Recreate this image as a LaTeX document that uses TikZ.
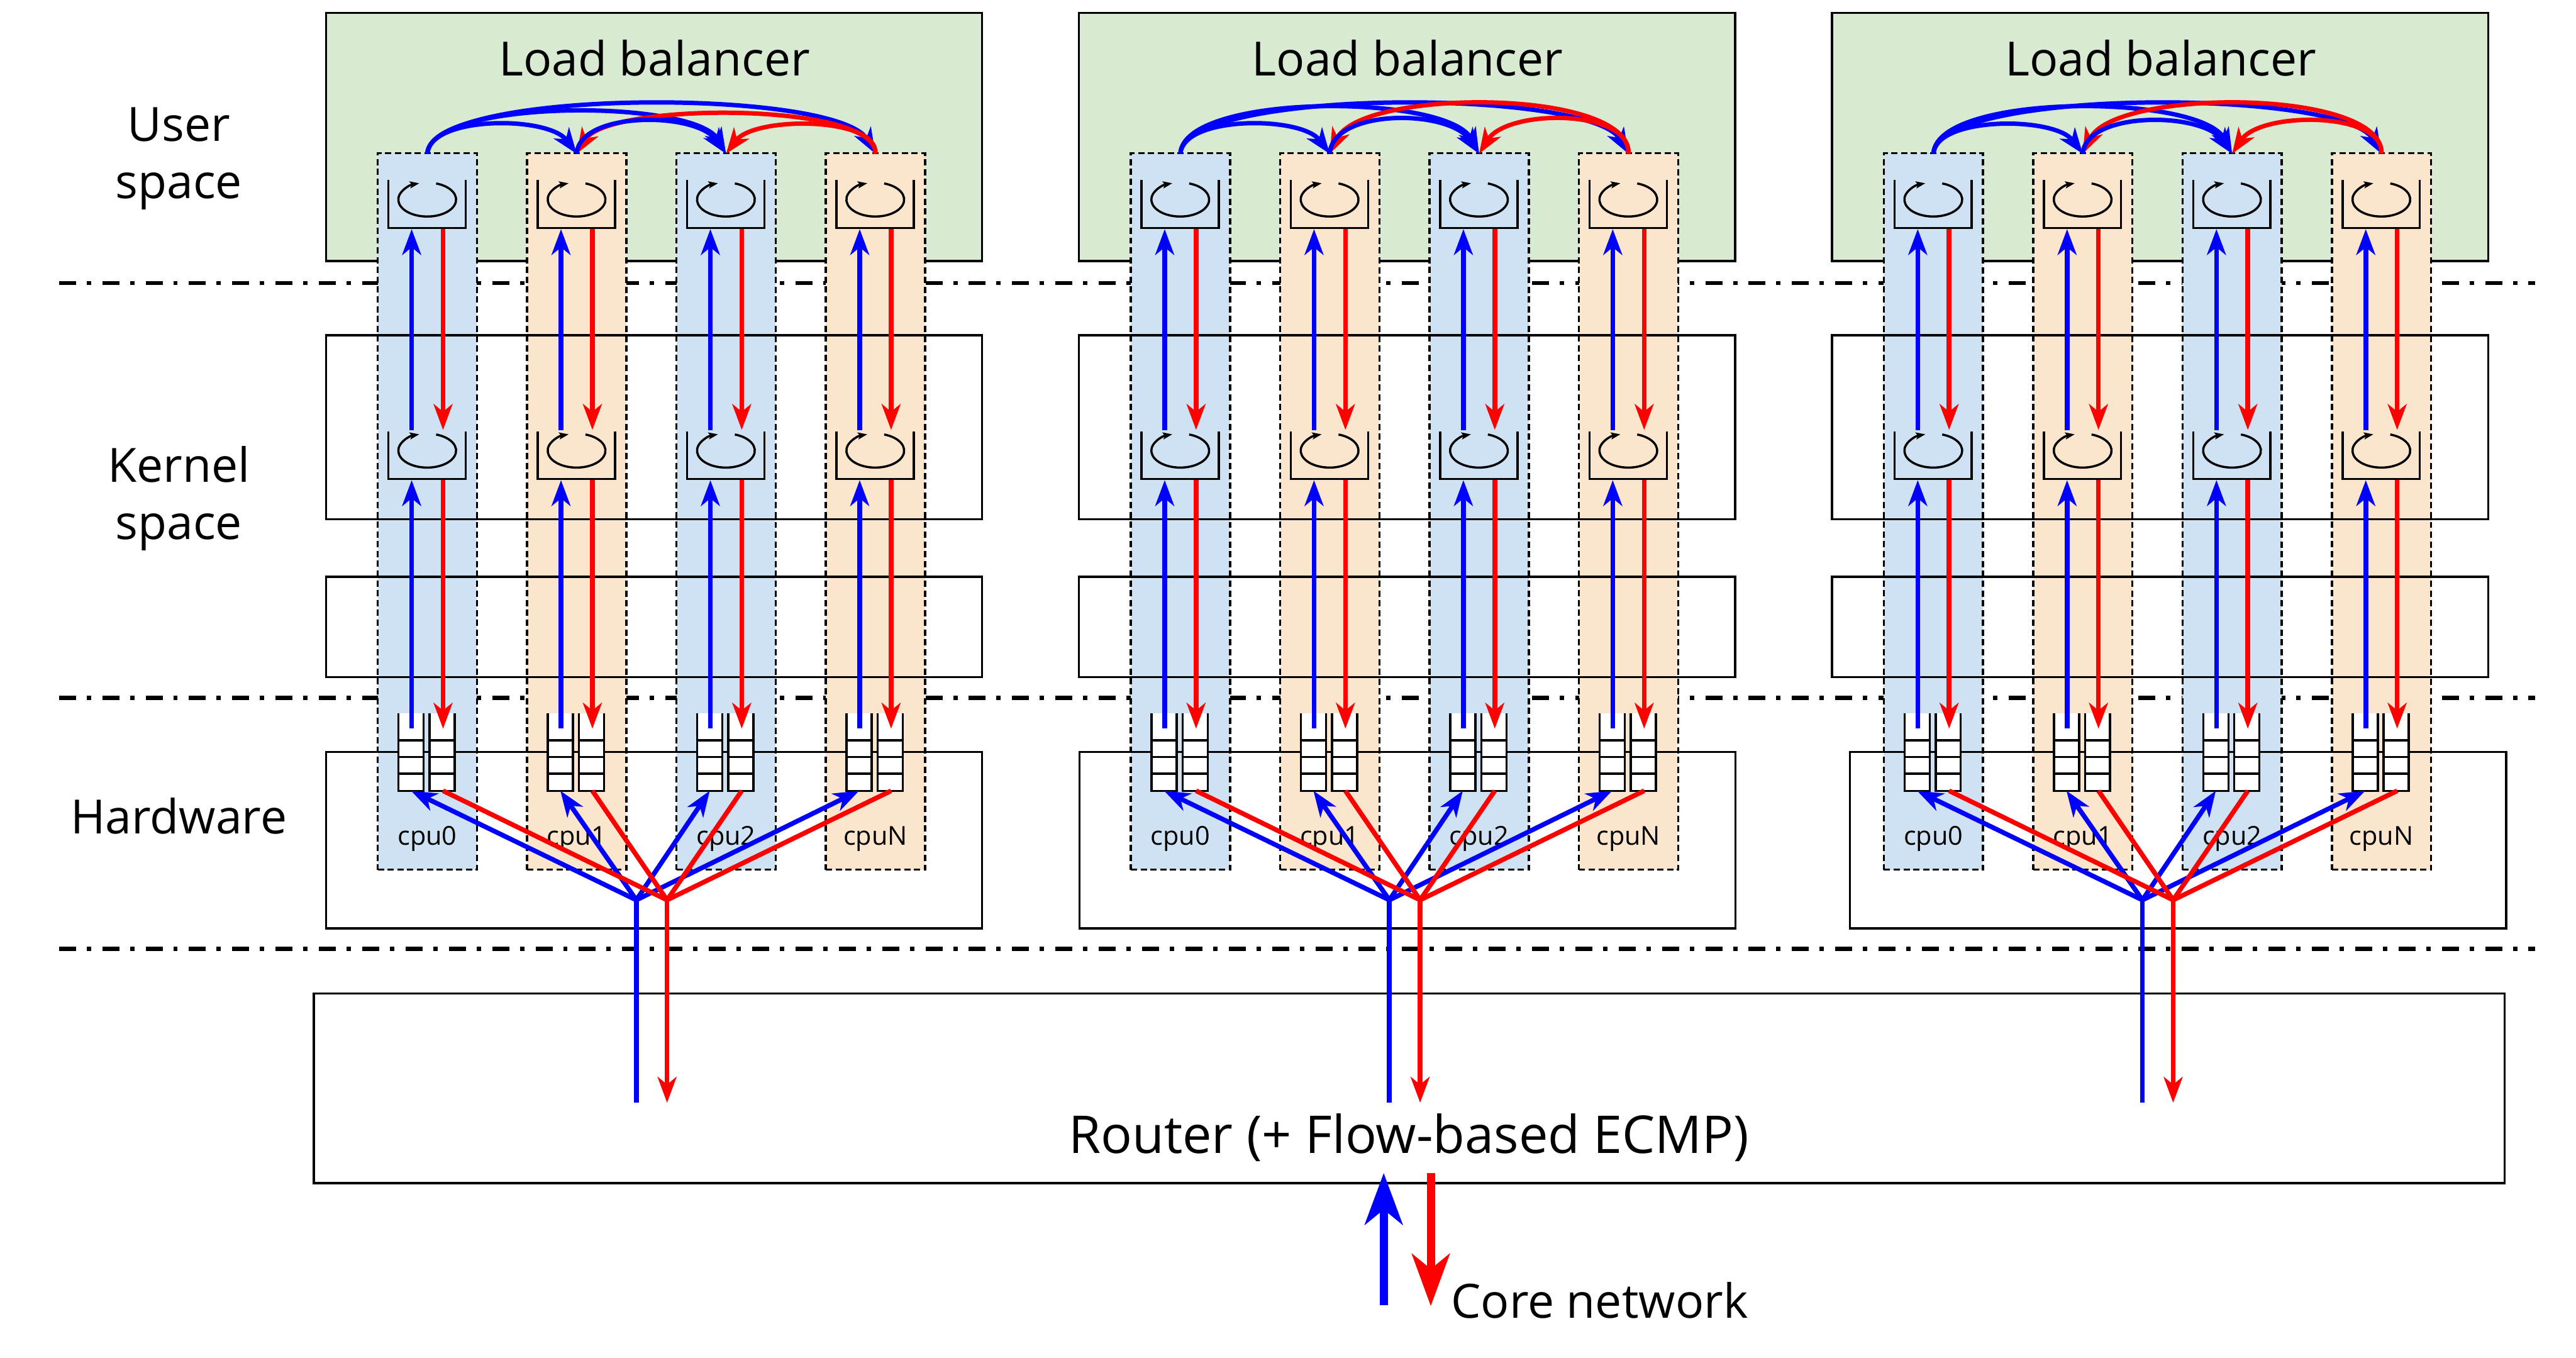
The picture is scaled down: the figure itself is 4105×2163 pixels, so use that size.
\documentclass[tikz,border=0pt]{standalone}
\usepackage{fontspec}
\setmainfont{Open Sans}
\usetikzlibrary{arrows.meta,calc}
\definecolor{lbgreen}{HTML}{D9EAD3}
\definecolor{colblue}{HTML}{CFE2F3}
\definecolor{colorange}{HTML}{FCE5CD}
\tikzset{
  framebox/.style={draw=black,line width=0.035cm,inner sep=0pt,outer sep=0pt,anchor=north west},
  lbbox/.style={framebox,fill=lbgreen},
  colbox/.style={draw=black,line width=0.035cm,dash pattern=on 0.10cm off 0.056cm,inner sep=0pt,outer sep=0pt,anchor=north west,minimum width=1.58cm,minimum height=11.41cm},
  sep/.style={draw=black,line width=0.065cm,dash pattern=on 0.27cm off 0.17cm on 0.07cm off 0.18cm},
  qline/.style={draw=black,line width=0.035cm,line join=miter},
  qghost/.style={inner sep=0pt,outer sep=0pt,anchor=north west},
  hwq/.style={qghost,fill=white,minimum width=0.40cm,minimum height=1.24cm},
  hd/.style={-{Stealth[length=0.41cm,width=0.30cm,inset=0.12cm]}},
  bl/.style={draw=blue,line width=0.075cm,color=blue},
  rd/.style={draw=red,line width=0.075cm,color=red},
  arcb/.style={bl,line width=0.07cm,hd},
  arcr/.style={rd,line width=0.07cm,hd},
  looparc/.style={draw=black,line width=0.035cm,-{Stealth[length=0.15cm,width=0.11cm,inset=0.03cm]}},
  bigtext/.style={font=\fontsize{21.4pt}{25pt}\selectfont,anchor=base,inner sep=0pt},
  routertext/.style={font=\fontsize{23.6pt}{28pt}\selectfont,anchor=base,inner sep=0pt},
  cputext/.style={font=\fontsize{11.8pt}{13pt}\selectfont,anchor=base,inner sep=0pt},
}
\begin{document}
\begin{tikzpicture}[x={(0.01cm,0)},y={(0,-0.01cm)}]
\useasboundingbox (0,0) rectangle (4105,2163);
% load balancers
\foreach \r/\dx in {0/0,1/1200,2/2400}{
  \begin{scope}[shift={(\dx,0)}]
    \node[lbbox,minimum width=10.45cm,minimum height=3.95cm] (lb\r) at (519.5,20.5) {};
    \node[bigtext] (lbt\r) at (1043,121) {Load balancer};
  \end{scope}
}
% separators
\coordinate (s1a) at (94,451); \coordinate (s1b) at (4040,451);
\coordinate (s2a) at (94,1112); \coordinate (s2b) at (4040,1112);
\coordinate (s3a) at (94,1512); \coordinate (s3b) at (4040,1512);
\draw[sep] (s1a) -- (s1b);
\draw[sep] (s2a) -- (s2b);
\draw[sep] (s3a) -- (s3b);
% columns
\foreach \r/\dx in {0/0,1/1200,2/2400}{
  \begin{scope}[shift={(\dx,0)}]
    \foreach \c/\cx/\cc/\lab in {0/602/colblue/cpu0,1/840/colorange/cpu1,2/1078/colblue/cpu2,3/1316/colorange/cpuN}{
      \node[colbox,fill=\cc] (col\r\c) at (\cx,244) {};
      \node[cputext] (cput\r\c) at (\cx+79,1346) {\lab};
    }
  \end{scope}
}
% transparent frames
\foreach \r/\dx/\hwx in {0/0/519.5,1/1200/1720,2/2400/2948}{
  \begin{scope}[shift={(\dx,0)}]
    \node[framebox,minimum width=10.45cm,minimum height=2.93cm] (kern\r) at (519.5,534) {};
    \node[framebox,minimum width=10.45cm,minimum height=1.60cm] (drv\r) at (519.5,919) {};
  \end{scope}
  \node[framebox,minimum width=10.45cm,minimum height=2.81cm] (hw\r) at (\hwx,1198) {};
}
\node[framebox,minimum width=34.89cm,minimum height=3.02cm] (router) at (500,1583) {};
\node[routertext] (routert) at (2245,1838) {Router (+ Flow-based ECMP)};
% racks
\foreach \r/\dx/\ha/\hb/\hc/\hd/\he/\hf in {0/0/61/88/105/68/60/83,1/1200/61/97/105/72/72/105,2/2400/60/97/105/68/68/105}{
  \begin{scope}[shift={(\dx,0)}]
    \foreach \c/\cx in {0/602,1/840,2/1078,3/1316}{
      \node[qghost,minimum width=1.23cm,minimum height=0.76cm] (uq\r\c) at (\cx+17,287) {};
      \node[qghost,minimum width=1.23cm,minimum height=0.76cm] (lq\r\c) at (\cx+17,687) {};
      \draw[qline] (uq\r\c.north west) -- (uq\r\c.south west) -- (uq\r\c.south east) -- (uq\r\c.north east);
      \draw[qline] (lq\r\c.north west) -- (lq\r\c.south west) -- (lq\r\c.south east) -- (lq\r\c.north east);
      \draw[looparc] (\cx+93,692.3) arc[start angle=72,end angle=-254,x radius=0.46cm,y radius=0.27cm];
      \draw[looparc] (\cx+93,292.3) arc[start angle=72,end angle=-254,x radius=0.46cm,y radius=0.27cm];
      % hardware queues
      \node[hwq] (hqa\r\c) at (\cx+33,1136) {};
      \node[hwq] (hqb\r\c) at (\cx+82.5,1136) {};
      \foreach \q in {hqa\r\c,hqb\r\c}{
        \draw[qline] (\q.north west) -- (\q.south west) -- (\q.south east) -- (\q.north east);
        \foreach \yy in {0.35,0.565,0.78}{
          \draw[qline] ($(\q.north west)!\yy!(\q.south west)$) -- ($(\q.north east)!\yy!(\q.south east)$);
        }
      }
      % named ends of the vertical flows
      \coordinate (ba\r\c) at (\cx+54,1161);
      \coordinate (bb\r\c) at (\cx+54,765);
      \coordinate (bc\r\c) at (\cx+54,685);
      \coordinate (bd\r\c) at (\cx+54,365);
      \coordinate (ra\r\c) at (\cx+104,365);
      \coordinate (rb\r\c) at (\cx+104,685);
      \coordinate (rc\r\c) at (\cx+104,765);
      \coordinate (rd\r\c) at (\cx+104,1161);
      \coordinate (bt\r\c) at (\cx+53,1260);
      \coordinate (rt\r\c) at (\cx+104,1260);
      \coordinate (top\r\c) at (\cx+79,245);
      \draw[bl,hd] (ba\r\c) -- (bb\r\c);
      \draw[bl,hd] (bc\r\c) -- (bd\r\c);
      \draw[rd,hd] (ra\r\c) -- (rb\r\c);
      \draw[rd,hd] (rc\r\c) -- (rd\r\c);
    }
    % fan and stems
    \coordinate (bo\r) at (1014,1434);
    \coordinate (ro\r) at (1063,1434);
    \coordinate (bs\r) at (1014,1757);
    \coordinate (rs\r) at (1063,1757);
    \draw[bl] (bs\r) -- (bo\r);
    \foreach \c in {0,1,2,3}{ \draw[bl,hd] (bo\r) -- (bt\r\c); }
    \foreach \c in {0,1,2,3}{ \draw[rd] (rt\r\c) -- (ro\r); }
    \draw[rd,hd] (ro\r) -- (rs\r);
    % balancing arcs
    \draw[arcb] (top\r0) .. controls +(4,-\hc) and +(-60,-\hc) .. (top\r3);
    \draw[arcb] (top\r0) .. controls +(4,-\hb) and +(-50,-\hb) .. (top\r2);
    \draw[arcb] (top\r0) .. controls +(4,-\ha) and +(-45,-\ha) .. (top\r1);
    \draw[arcr] (top\r3) .. controls +(4,-\hf) and +(50,-\hf) .. (top\r1);
    \draw[arcb] (top\r1) .. controls +(4,-\hd) and +(-48,-\hd) .. (top\r2);
    \draw[arcr] (top\r3) .. controls +(4,-\he) and +(45,-\he) .. (top\r2);
  \end{scope}
}
% core network
\coordinate (cba) at (2205,2080); \coordinate (cbb) at (2205,1869);
\coordinate (cra) at (2280,1869); \coordinate (crb) at (2280,2081);
\draw[bl,line width=0.13cm,-{Stealth[length=0.82cm,width=0.60cm,inset=0.24cm]}] (cba) -- (cbb);
\draw[rd,line width=0.13cm,-{Stealth[length=0.83cm,width=0.60cm,inset=0.24cm]}] (cra) -- (crb);
\node[bigtext] (coret) at (2549,2100) {Core network};
% layer labels
\node[bigtext] (l1) at (285,225) {User};
\node[bigtext] (l2) at (285,316) {space};
\node[bigtext] (l3) at (285,768) {Kernel};
\node[bigtext] (l4) at (285,859) {space};
\node[bigtext] (l5) at (285,1328) {Hardware};
\end{tikzpicture}
\end{document}
